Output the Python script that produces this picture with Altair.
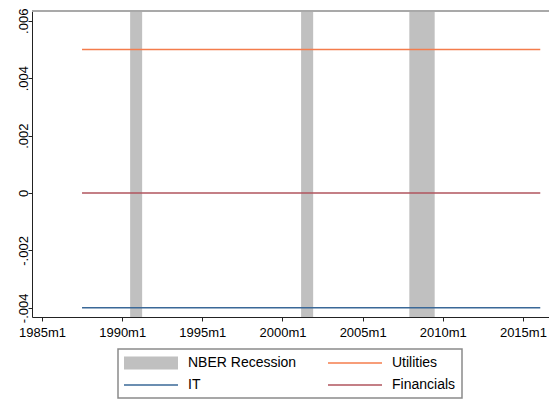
import altair as alt
import pandas as pd

# NBER recession spans (first month to the month after the trough)
rec_start = ["1990-07-01", "2001-03-01", "2007-12-01"]
rec_end = ["1991-04-01", "2001-12-01", "2009-07-01"]

# Sector series: flat levels over the estimation sample
sectors = ["Utilities", "IT", "Financials"]
levels = [0.005, -0.004, 0.0]
sample_start = "1987-07-01"
sample_end = "2016-02-01"

# Legend entries and colours
legend_names = ["NBER Recession", "Utilities", "IT", "Financials"]
legend_colors = ["#c0c0c0", "#f47c4c", "#3a6897", "#b0545e"]
# key swatches: a wide block for the shading, thin bars for the lines
legend_shapes = [
    "M-1,-0.8H5.75V0.8H-1Z",
    "M-1,-0.1H5.75V0.1H-1Z",
    "M-1,-0.1H5.75V0.1H-1Z",
    "M-1,-0.1H5.75V0.1H-1Z",
]

y_ticks = [-0.004, -0.002, 0.0, 0.002, 0.004, 0.006]
x_tick_years = [1985, 1990, 1995, 2000, 2005, 2010, 2015]

FONT = "Liberation Sans"
AXIS_COLOR = "#222222"

rec_df = pd.DataFrame({"start": rec_start, "end": rec_end, "series": "NBER Recession"})
line_df = pd.DataFrame(
    {"series": sectors, "level": levels, "start": sample_start, "end": sample_end}
)
key_df = pd.DataFrame({"series": legend_names})

x_scale = alt.Scale(
    type="utc",
    domain=[
        alt.DateTime(year=1984, month=5, date=17, utc=True),
        alt.DateTime(year=2016, month=8, date=18, utc=True),
    ],
)
y_scale = alt.Scale(domain=[-0.00432, 0.00634], nice=False, zero=False)
color_scale = alt.Scale(domain=legend_names, range=legend_colors)

x_axis = alt.Axis(
    values=[alt.DateTime(year=y, month=1, date=1, utc=True) for y in x_tick_years],
    labelExpr="utcFormat(datum.value, '%Y') + 'm' + (utcmonth(datum.value) + 1)",
    title=None,
    grid=False,
    tickSize=4,
    labelPadding=5,
    labelFont=FONT,
    labelFontSize=13,
    labelColor="black",
    domainColor=AXIS_COLOR,
    tickColor=AXIS_COLOR,
    labelFlush=False,
)
y_axis = alt.Axis(
    values=y_ticks,
    labelExpr="datum.value == 0 ? '0' : (datum.value < 0 ? '-' : '') + replace(format(abs(datum.value), '.3f'), '0.', '.')",
    title=None,
    grid=False,
    tickSize=4,
    labelPadding=1,
    labelAngle=270,
    labelAlign="center",
    labelBaseline="alphabetic",
    labelFont=FONT,
    labelFontSize=13,
    labelColor="black",
    domainColor=AXIS_COLOR,
    tickColor=AXIS_COLOR,
    labelFlush=False,
)

key_legend = alt.Legend(
    title=None,
    orient="none",
    legendX=86,
    legendY=338,
    direction="horizontal",
    columns=2,
    symbolSize=256,
    symbolStrokeWidth=0,
    labelOffset=48,
    columnPadding=31,
    rowPadding=7,
    padding=6,
    strokeColor="#8a8a8a",
    labelFont=FONT,
    labelFontSize=14,
    labelColor="black",
)

# Legend key (no marks drawn, only the legend entries)
key = (
    alt.Chart(key_df)
    .transform_filter("false")
    .mark_point(filled=True, opacity=1)
    .encode(
        color=alt.Color("series:N", scale=color_scale, legend=key_legend),
        shape=alt.Shape(
            "series:N",
            scale=alt.Scale(domain=legend_names, range=legend_shapes),
            legend=key_legend,
        ),
    )
)

recessions = (
    alt.Chart(rec_df)
    .mark_rect()
    .encode(
        x=alt.X("start:T", scale=x_scale, axis=x_axis),
        x2="end:T",
        color=alt.Color("series:N", scale=color_scale, legend=None),
    )
)

lines = (
    alt.Chart(line_df)
    .mark_rule(strokeWidth=1.6)
    .encode(
        x=alt.X("start:T", scale=x_scale, axis=x_axis),
        x2="end:T",
        y=alt.Y("level:Q", scale=y_scale, axis=y_axis),
        color=alt.Color("series:N", scale=color_scale, legend=None),
    )
)

# top edge of the plot region
frame = (
    alt.Chart(alt.Data(values=[{}]))
    .mark_rule(color="#a9a9a9", strokeWidth=2)
    .encode(y=alt.value(0))
)

chart = (
    alt.layer(key, recessions, lines, frame)
    .properties(
        width=517,
        height=306,
        padding={"left": 32, "top": 11, "right": 0, "bottom": 82},
        autosize="none",
        background="white",
    )
    .configure_view(stroke=None)
    .configure_legend(strokeWidth=1.5)
)

chart.save("out.html", embed_options={"renderer": "svg", "actions": False})
